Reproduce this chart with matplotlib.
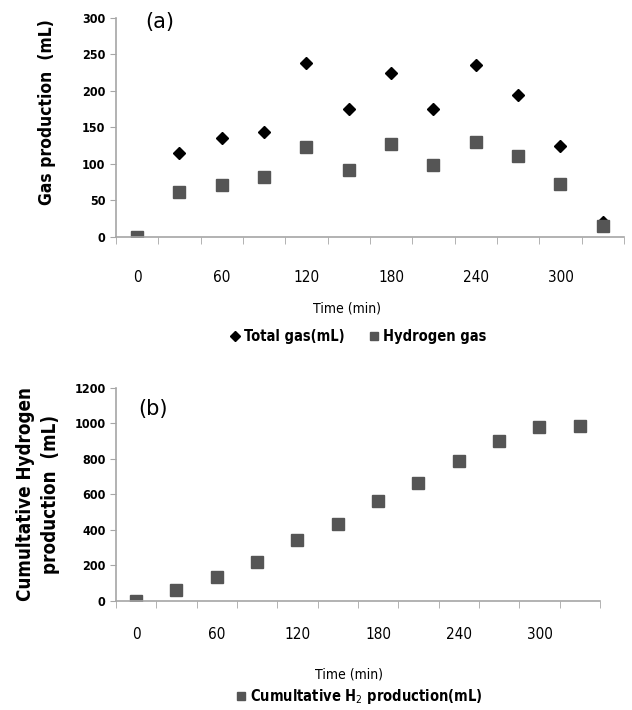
import numpy as np
import matplotlib.pyplot as plt
from matplotlib.lines import Line2D

plt.rcParams['font.family'] = ['DejaVu Sans']
plt.rcParams['font.stretch'] = 'condensed'

# panel (a) data, one value per sampling interval
cats_a = np.arange(12)
total_gas = [0, 115, 135, 144, 239, 175, 225, 175, 235, 195, 125, 20]
hydrogen_gas = [0, 62, 71, 82, 123, 92, 128, 98, 130, 111, 72, 15]

# panel (b) data
cats_b = np.arange(12)
cum_h2 = [0, 60, 132, 216, 342, 432, 562, 661, 787, 900, 976, 986]

time_ticks = [0, 2, 4, 6, 8, 10]
time_labels = ['0', '60', '120', '180', '240', '300']

GRAY = '#555555'
AX = '#a6a6a6'

fig = plt.figure(figsize=(6.32, 7.10), dpi=100)
ax1 = fig.add_axes([0.1835, 0.6662, 0.8038, 0.3085])
ax2 = fig.add_axes([0.1835, 0.1539, 0.7658, 0.3])


def style(ax, ymax, ystep, pad):
    for s in ['top', 'right']:
        ax.spines[s].set_visible(False)
    for s in ['left', 'bottom']:
        ax.spines[s].set_color(AX)
        ax.spines[s].set_linewidth(1.2)
    ax.set_xlim(-0.5, 11.5)
    ax.set_ylim(0, ymax)
    ax.set_yticks(np.arange(0, ymax + 1, ystep))
    ax.tick_params(axis='y', direction='out', length=4, color=AX, labelsize=9)
    for t in ax.get_yticklabels():
        t.set_fontweight('bold')
    ax.set_xticks(np.arange(-0.5, 12, 1), minor=True)
    ax.tick_params(axis='x', which='minor', direction='out', length=5, color=AX)
    ax.set_xticks(time_ticks)
    ax.set_xticklabels(time_labels)
    ax.tick_params(axis='x', which='major', length=0, pad=pad, labelsize=11)


ax1.plot(cats_a, total_gas, linestyle='none', marker='D', color='black', markersize=6.5)
ax1.plot(cats_a, hydrogen_gas, linestyle='none', marker='s', color=GRAY, markersize=8)
style(ax1, 300, 50, 24)
ax1.set_ylabel('Gas production  (mL)', fontsize=12.5, fontweight='bold', va='center')
ax1.yaxis.set_label_coords(-0.136, 0.57)
ax1.text(0.058, 0.98, '(a)', transform=ax1.transAxes, fontsize=15, va='center',
         fontstretch='normal')
fig.text(347 / 632, 1 - 309 / 710, 'Time (min)', ha='center', va='center', fontsize=10)
h1 = [Line2D([], [], linestyle='none', marker='D', color='black', markersize=5),
      Line2D([], [], linestyle='none', marker='s', color=GRAY, markersize=6)]
fig.legend(h1, ['Total gas(mL)', 'Hydrogen gas'], loc='center', ncol=2,
           bbox_to_anchor=(357 / 632, 1 - 337 / 710), frameon=False,
           prop={'weight': 'bold', 'size': 10.5, 'stretch': 'condensed'},
           handletextpad=0.1, columnspacing=1.5, handlelength=1)

ax2.plot(cats_b, cum_h2, linestyle='none', marker='s', color=GRAY, markersize=8)
style(ax2, 1200, 200, 19)
ax2.set_ylabel('Cumultative Hydrogen\nproduction  (mL)', fontsize=13.5, fontweight='bold',
               linespacing=1.4, va='center')
ax2.yaxis.set_label_coords(-0.162, 0.5)
ax2.text(0.045, 0.9, '(b)', transform=ax2.transAxes, fontsize=15, va='center',
         fontstretch='normal')
fig.text(349 / 632, 1 - 675 / 710, 'Time (min)', ha='center', va='center', fontsize=10)
h2 = [Line2D([], [], linestyle='none', marker='s', color=GRAY, markersize=6)]
fig.legend(h2, ['Cumultative H$_2$ production(mL)'], loc='center',
           bbox_to_anchor=(358 / 632, 1 - 697 / 710), frameon=False,
           prop={'weight': 'bold', 'size': 10.5, 'stretch': 'condensed'},
           handletextpad=0.1, handlelength=1)

fig.savefig('out.png', dpi=100)
